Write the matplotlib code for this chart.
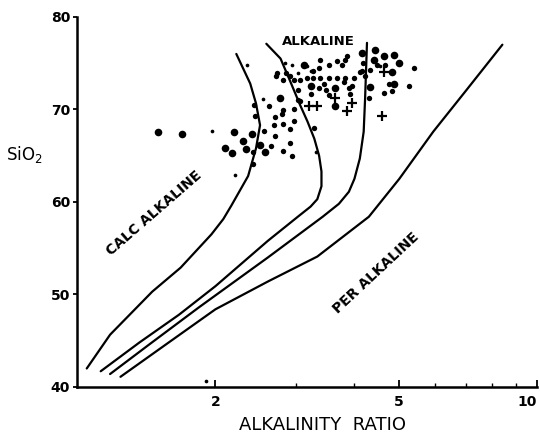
import matplotlib
matplotlib.use('Agg')
import matplotlib.pyplot as plt
from matplotlib.ticker import FixedLocator, NullFormatter

# boundary curves: alkalinity ratio vs SiO2
curve1_x = [1.05, 1.18, 1.457, 1.68, 1.96, 2.08, 2.165, 2.355, 2.45, 2.50, 2.45, 2.38, 2.22]
curve1_y = [42.0, 45.65, 50.3, 52.9, 56.5, 58.15, 59.6, 62.8, 65.8, 68.3, 70.65, 72.8, 76.0]

curve2_x = [1.126, 1.366, 1.665, 2.0, 2.60, 3.02, 3.22, 3.33, 3.40, 3.40, 3.36, 3.28, 3.17,
            3.06, 2.91, 2.77, 2.58]
curve2_y = [41.7, 44.8, 47.8, 50.9, 55.8, 58.4, 59.5, 60.3, 61.7, 63.3, 65.0, 66.85, 68.7,
            70.4, 73.0, 75.5, 77.1]

curve3_x = [1.18, 1.436, 1.84, 2.60, 3.42, 3.71, 3.90, 4.01, 4.12, 4.20, 4.23, 4.27]
curve3_y = [41.4, 44.6, 48.6, 54.0, 58.4, 59.8, 61.1, 62.5, 64.7, 67.6, 71.2, 77.2]

curve4_x = [1.243, 1.561, 2.0, 2.60, 3.33, 4.31, 5.02, 5.95, 7.0, 8.41]
curve4_y = [41.1, 44.6, 48.4, 51.4, 54.1, 58.4, 62.5, 67.6, 72.0, 77.0]

# samples, grouped by symbol size
big_x = [1.50, 1.69, 2.19, 2.40, 2.29, 2.10, 2.17, 2.33, 2.50, 2.56, 2.76, 3.12, 3.22,
         3.63, 3.63, 4.16, 4.33, 4.44, 4.64, 4.90, 5.00, 4.42, 4.83, 4.90]
big_y = [67.6, 67.3, 67.6, 67.3, 66.6, 65.8, 65.3, 65.7, 66.2, 65.4, 71.2, 74.8, 72.5,
         72.3, 70.4, 76.1, 72.4, 76.4, 75.8, 75.9, 75.0, 75.3, 74.1, 72.8]

med_x = [2.55, 2.44, 2.41, 2.41, 2.62, 2.43, 2.72, 2.80, 2.79, 2.69, 2.68, 2.80, 2.96,
         2.91, 2.69, 2.64, 2.91, 2.80, 2.94, 3.27, 2.97, 3.02, 2.71, 2.80, 2.91, 2.97,
         3.06, 3.17, 3.26, 3.38, 3.53, 3.68, 3.83, 4.00, 3.38, 3.36, 3.26, 3.53, 3.68,
         3.77, 3.83, 3.86, 3.36, 3.45, 3.47, 3.53, 3.81, 3.90, 3.96, 3.93, 3.05, 3.03,
         3.22, 4.12, 4.19, 4.16, 4.23, 4.31, 4.48, 4.67, 4.33, 4.76, 5.41, 5.28, 4.64,
         4.83, 2.85]
med_y = [67.7, 69.3, 65.4, 64.1, 70.4, 70.5, 73.9, 69.9, 69.5, 69.2, 68.3, 68.4, 68.7,
         67.9, 67.1, 66.1, 66.4, 65.5, 65.0, 68.0, 70.0, 71.0, 73.6, 73.2, 73.6, 73.2,
         73.2, 73.4, 73.4, 73.4, 73.4, 73.4, 73.4, 73.4, 75.3, 74.5, 74.2, 74.8, 75.2,
         74.8, 75.3, 75.8, 72.3, 72.8, 72.1, 71.6, 73.0, 72.3, 72.5, 71.7, 70.9, 72.1,
         71.7, 74.1, 75.0, 74.2, 73.6, 71.2, 74.8, 74.8, 74.3, 72.8, 74.5, 72.5, 71.8,
         72.0, 73.9]

small_x = [1.97, 2.21, 2.34, 2.54, 2.83, 2.93, 3.31, 3.17, 3.22, 3.02, 4.55, 1.905]
small_y = [67.7, 62.9, 74.8, 71.1, 75.0, 74.8, 65.4, 74.7, 74.2, 73.9, 74.7, 40.65]

plus_x = [3.63, 3.96, 3.86, 3.33, 3.20, 4.64, 4.60]
plus_y = [71.2, 70.7, 69.8, 70.4, 70.4, 74.1, 69.3]

fig = plt.figure(figsize=(5.4, 4.4), dpi=100)
ax = fig.add_axes([0.1426, 0.1205, 0.8518, 0.841])

for cx, cy in [(curve1_x, curve1_y), (curve2_x, curve2_y),
               (curve3_x, curve3_y), (curve4_x, curve4_y)]:
    ax.plot(cx, cy, color='black', lw=1.6, solid_capstyle='round',
            solid_joinstyle='round')

ax.scatter(big_x, big_y, s=30, color='black', linewidths=0)
ax.scatter(med_x, med_y, s=15, color='black', linewidths=0)
ax.scatter(small_x, small_y, s=7, color='black', linewidths=0)
ax.scatter(plus_x, plus_y, s=45, marker='+', color='black', linewidths=1.6)

ax.set_xscale('log')
ax.set_xlim(1, 10)
ax.set_ylim(40, 80)

ax.xaxis.set_major_locator(FixedLocator([2, 5, 10]))
ax.xaxis.set_minor_locator(FixedLocator([3, 4, 6, 7, 8, 9]))
ax.xaxis.set_minor_formatter(NullFormatter())
ax.set_xticklabels(['2', '5', '10'])
ax.set_yticks([40, 50, 60, 70, 80])

ax.tick_params(axis='x', which='major', direction='in', length=5, width=1.3,
               labelsize=10, pad=6)
ax.tick_params(axis='x', which='minor', direction='in', length=3, width=1.0)
ax.tick_params(axis='y', direction='out', length=3, width=1.3, labelsize=10, pad=2)
for lab in ax.get_xticklabels() + ax.get_yticklabels():
    lab.set_fontweight('bold')
ax.get_xticklabels()[-1].set_horizontalalignment('right')

for side in ['top', 'right']:
    ax.spines[side].set_visible(False)
for side in ['left', 'bottom']:
    ax.spines[side].set_linewidth(1.8)

ax.text(3.35, 77.3, 'ALKALINE', fontsize=9.5, fontweight='bold', ha='center', va='center')
ax.text(1.47, 58.8, 'CALC ALKALINE', fontsize=10, fontweight='bold', rotation=41,
        ha='center', va='center')
ax.text(4.47, 52.3, 'PER ALKALINE', fontsize=10, fontweight='bold', rotation=43,
        ha='center', va='center')

fig.text(0.046, 0.648, 'SiO$_2$', fontsize=12, ha='center', va='center')
fig.text(0.598, 0.034, 'ALKALINITY  RATIO', fontsize=13, ha='center', va='center')

fig.savefig('out.png', dpi=100)
